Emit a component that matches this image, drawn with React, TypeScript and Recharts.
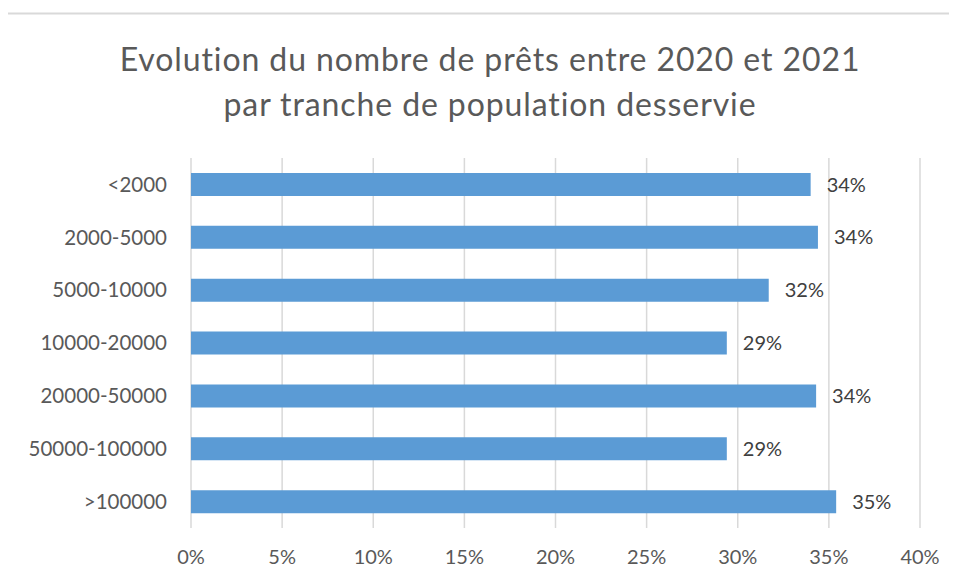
import { BarChart, Bar, XAxis, YAxis, CartesianGrid, LabelList } from "recharts"

const categories = ["<2000", "2000-5000", "5000-10000", "10000-20000", "20000-50000", "50000-100000", ">100000"]
const evolution = [0.34, 0.344, 0.317, 0.294, 0.343, 0.294, 0.354]
const xTicks = [0, 0.05, 0.1, 0.15, 0.2, 0.25, 0.3, 0.35, 0.4]

const data = categories.map((name, i) => ({ name, value: evolution[i] }))

const font = "Lato, 'Open Sans', sans-serif"
const pct = (v: number) => `${Math.round(v * 100)}%`

export default function App() {
  return (
    <div style={{ position: "relative", width: 957, height: 580, margin: -8, overflow: "hidden", background: "#fff", fontFamily: font }}>
      <div
        style={{
          position: "absolute",
          left: 0,
          top: 36,
          width: 980,
          textAlign: "center",
          color: "#595959",
          fontSize: 32,
          letterSpacing: 0.9,
          lineHeight: "45px",
        }}
      >
        Evolution du nombre de prêts entre 2020 et 2021
        <br />
        par tranche de population desservie
      </div>
      <div style={{ position: "absolute", left: 0, top: 0 }}>
        <BarChart
          width={957}
          height={580}
          data={data}
          layout="vertical"
          margin={{ top: 158, right: 37, bottom: 22, left: 0 }}
        >
          <CartesianGrid horizontal={false} stroke="#d9d9d9" strokeWidth={1.5} />
          <XAxis
            type="number"
            domain={[0, 0.4]}
            ticks={xTicks}
            tickFormatter={pct}
            axisLine={false}
            tickLine={false}
            height={30}
            tickSize={0}
            tickMargin={22}
            interval={0}
            tick={{ fontSize: 20, fill: "#595959", fontFamily: font }}
          />
          <YAxis
            type="category"
            dataKey="name"
            width={191}
            axisLine={false}
            tickLine={false}
            tickSize={0}
            tickMargin={24}
            interval={0}
            tick={{ fontSize: 20.5, fill: "#595959", fontFamily: font }}
          />
          <Bar dataKey="value" fill="#5b9bd5" barSize={23} isAnimationActive={false}>
            <LabelList
              dataKey="value"
              position="right"
              offset={16}
              formatter={(v: any) => pct(Number(v))}
              style={{ fontSize: 20, fill: "#404040", fontFamily: font }}
            />
          </Bar>
        </BarChart>
      </div>
      <svg
        width={957}
        height={580}
        style={{ position: "absolute", left: 0, top: 0, zIndex: 2, pointerEvents: "none" }}
      >
        <polyline points="6,600 6,13.5 980,13.5" fill="none" stroke="#d9d9d9" strokeWidth={2} />
      </svg>
    </div>
  )
}
